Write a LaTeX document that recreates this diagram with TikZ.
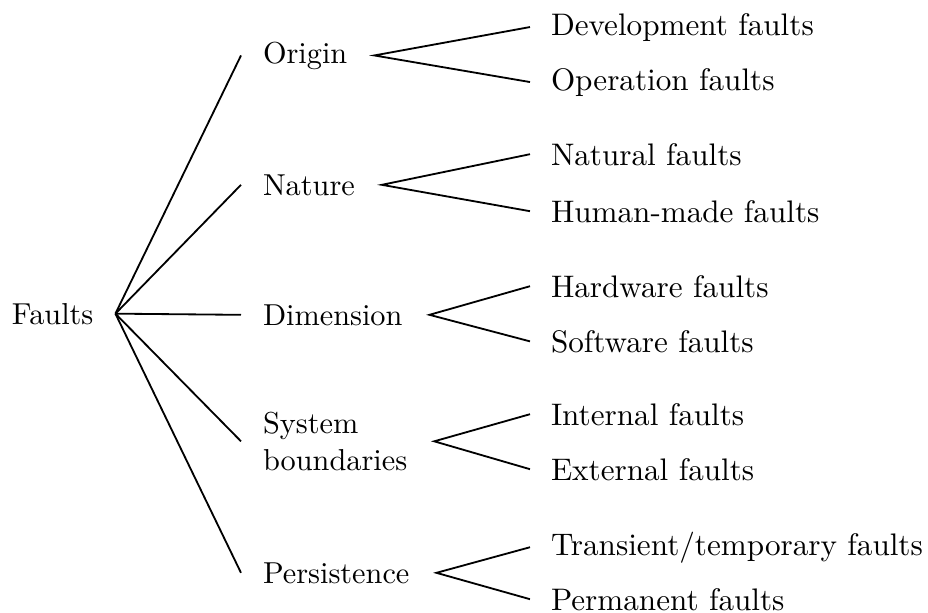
\documentclass[tikz,border=0pt]{standalone}
\begin{document}
\begin{tikzpicture}[x=0.33pt,y=-0.33pt,
  lbl/.style={anchor=base west,inner sep=0pt,outer sep=0pt},
  leaf/.style={lbl,font=\fontsize{10.28pt}{12.3pt}\selectfont},
  edge/.style={line width=0.6pt}]
\useasboundingbox (0,0) rectangle (928,612);
% root
\node[lbl] (root) at (12,324) {Faults};
% categories
\node[lbl] (ori) at (263,63) {Origin};
\node[lbl] (nat) at (263,195) {Nature};
\node[lbl] (dim) at (263,325) {Dimension};
\node[lbl,align=left] (sys) at (263,470) {System\\boundaries};
\node[lbl] (per) at (263,583) {Persistence};
% leaves
\node[leaf] (dev) at (551,35) {Development faults};
\node[leaf] (ope) at (551,90) {Operation faults};
\node[leaf] (natf) at (551,165) {Natural faults};
\node[leaf] (hum) at (551,222) {Human-made faults};
\node[leaf] (hw) at (551,297) {Hardware faults};
\node[leaf] (sw) at (551,352) {Software faults};
\node[leaf] (int) at (551,425) {Internal faults};
\node[leaf] (ext) at (551,480) {External faults};
\node[leaf] (tra) at (551,555) {Transient/temporary faults};
\node[leaf] (pmt) at (551,610) {Permanent faults};
% root fan
\coordinate (r0) at ([xshift=22*0.33pt]root.east);
\foreach \n in {ori,nat,dim,sys,per}
  \draw[edge] (r0) -- ([xshift=-22*0.33pt]\n.west);
% category fans
\foreach \a/\b/\c in {ori/dev/ope,nat/natf/hum,dim/hw/sw,sys/int/ext,per/tra/pmt}{
  \draw[edge] ([xshift=-21*0.33pt]\b.west) -- ([xshift=27*0.33pt]\a.east) -- ([xshift=-21*0.33pt]\c.west);
}
\end{tikzpicture}
\end{document}
